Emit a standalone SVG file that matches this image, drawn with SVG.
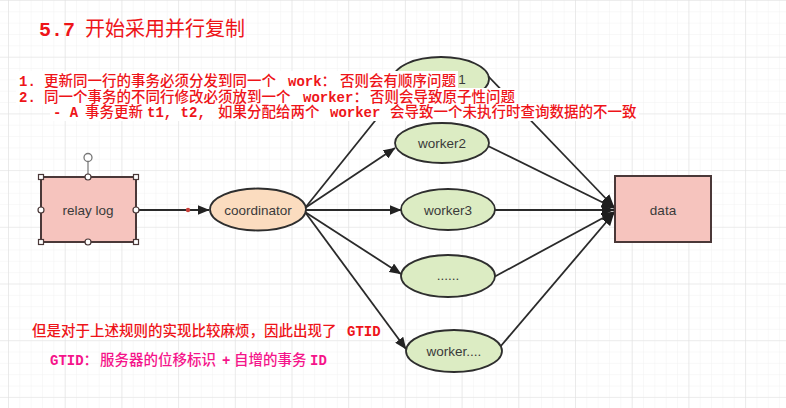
<svg xmlns="http://www.w3.org/2000/svg" width="786" height="408" viewBox="0 0 786 408">
<style>
.node-label{font-family:"Liberation Sans",Arial,sans-serif;font-size:13.5px;fill:#3a3a3a;text-anchor:middle}
.edge{stroke:#2a2a2a;stroke-width:1.8;fill:none}
.worker{fill:#dcecc3;stroke:#2e2e2e;stroke-width:1.8}
.box{fill:#f6c4be;stroke:#4a3838;stroke-width:2}
.txt{font-family:"Liberation Mono","Noto Sans CJK SC",monospace;font-size:14px;font-weight:bold}
.cjk{font-family:"Noto Sans CJK SC","Liberation Sans",sans-serif;font-size:14.5px;font-weight:500}
.red{fill:#ee1419}
.pink{fill:#f5148a}
.bg{fill:#ffffff}
.handle{fill:#ffffff;stroke:#4a3838;stroke-width:1.2}
</style>
<defs>
<pattern id="minor" width="11.34" height="11.34" x="8" y="0" patternUnits="userSpaceOnUse">
<path d="M11.34 0 L0 0 L0 11.34" fill="none" stroke="#f1f1f1" stroke-width="1"/>
</pattern>
<pattern id="major" width="56.7" height="56.7" x="8" y="0" patternUnits="userSpaceOnUse">
<path d="M56.7 0 L0 0 L0 56.7" fill="none" stroke="#e2e2e2" stroke-width="1.2"/>
</pattern>
<marker id="arr" viewBox="0 0 12 10" refX="11.5" refY="5" markerWidth="12" markerHeight="10" markerUnits="userSpaceOnUse" orient="auto">
<path d="M0,0 L12,5 L0,10 z" fill="#222"/>
</marker>
<marker id="arrd" viewBox="0 0 13 11" refX="12.5" refY="5.5" markerWidth="13" markerHeight="11" markerUnits="userSpaceOnUse" orient="auto">
<path d="M0,0 L13,5.5 L0,11 z" fill="#1e1e1e"/>
</marker>
</defs>
<rect width="786" height="408" fill="#ffffff"/>
<rect width="786" height="408" fill="url(#minor)"/>
<rect width="786" height="408" fill="url(#major)"/>

<g id="connectors">
<path class="edge" d="M136 210 L209 210" marker-end="url(#arr)"/>
<circle cx="188" cy="210" r="2.2" fill="#c8403a"/>
<path class="edge" d="M305 208 L399 91" marker-end="url(#arr)"/>
<path class="edge" d="M305 208 L395 148" marker-end="url(#arr)"/>
<path class="edge" d="M305 210 L401 210" marker-end="url(#arr)"/>
<path class="edge" d="M305 212 L401 274" marker-end="url(#arr)"/>
<path class="edge" d="M305 212 L406 349" marker-end="url(#arr)"/>
<path class="edge" d="M488 76 L614 207" marker-end="url(#arrd)"/>
<path class="edge" d="M488 146 L614 208" marker-end="url(#arrd)"/>
<path class="edge" d="M495 210 L614 210" marker-end="url(#arrd)"/>
<path class="edge" d="M494 277 L614 212" marker-end="url(#arrd)"/>
<path class="edge" d="M500 347 L614 213" marker-end="url(#arrd)"/>
</g>

<g id="relay-log">
<rect class="box" x="41" y="177" width="95" height="65"/>
<line x1="88" y1="161" x2="88" y2="177" stroke="#777" stroke-width="1.2"/>
<circle cx="88" cy="157.5" r="4" fill="#fff" stroke="#777" stroke-width="1.3"/>
<rect class="handle" x="38.5" y="174.5" width="5" height="5"/>
<rect class="handle" x="133.5" y="174.5" width="5" height="5"/>
<rect class="handle" x="38.5" y="239.5" width="5" height="5"/>
<rect class="handle" x="133.5" y="239.5" width="5" height="5"/>
<circle class="handle" cx="88" cy="177" r="3"/>
<circle class="handle" cx="88" cy="242" r="3"/>
<circle class="handle" cx="41" cy="210" r="3"/>
<circle class="handle" cx="136" cy="210" r="3"/>
<text class="node-label" x="88" y="215">relay log</text>
</g>

<g id="coordinator">
<ellipse cx="258" cy="209.5" rx="48" ry="21" fill="#fbdcbf" stroke="#2e2e2e" stroke-width="1.8"/>
<text class="node-label" x="258" y="214.5">coordinator</text>
</g>

<g id="worker1">
<ellipse class="worker" cx="441" cy="79" rx="48" ry="22"/>
<text class="node-label" x="462" y="84">1</text>
</g>

<g id="worker2">
<ellipse class="worker" cx="442" cy="143" rx="47" ry="20"/>
<text class="node-label" x="442" y="148">worker2</text>
</g>

<g id="worker3">
<ellipse class="worker" cx="448" cy="209.5" rx="47" ry="20.5"/>
<text class="node-label" x="448" y="214.5">worker3</text>
</g>

<g id="worker-dots">
<ellipse class="worker" cx="448" cy="276" rx="47" ry="21"/>
<text class="node-label" x="448" y="280">......</text>
</g>

<g id="worker-n">
<ellipse class="worker" cx="454" cy="351" rx="48" ry="21"/>
<text class="node-label" x="454" y="356">worker....</text>
</g>

<g id="data">
<rect class="box" x="615" y="176" width="96" height="66"/>
<text class="node-label" x="663" y="215">data</text>
</g>

<g id="title">
<text x="39" y="36" font-size="20" class="red"><tspan font-family="Liberation Mono,monospace" font-weight="bold" font-size="20">5.7</tspan><tspan x="85" font-family="Noto Sans CJK SC,sans-serif" font-size="20">开始采用并行复制</tspan></text>
</g>

<g id="notes">
<rect class="bg" x="16" y="71" width="442" height="18"/>
<rect class="bg" x="16" y="88" width="501" height="17"/>
<rect class="bg" x="50" y="104" width="589" height="17"/>
<text class="txt red"><tspan x="19" y="86">1.</tspan><tspan class="cjk" x="44" y="86">更新同一行的事务必须分发到同一个</tspan><tspan x="288" y="86">work</tspan><tspan class="cjk">：</tspan><tspan class="cjk" x="340" y="86">否则会有顺序问题</tspan><tspan x="19" y="101.5">2.</tspan><tspan class="cjk" x="44" y="101.5">同一个事务的不同行修改必须放到一个</tspan><tspan x="303" y="101.5">worker</tspan><tspan class="cjk">：</tspan><tspan class="cjk" x="370" y="101.5">否则会导致原子性问题</tspan><tspan x="53" y="117">- A</tspan><tspan class="cjk" x="85" y="117">事务更新</tspan><tspan x="147" y="117">t1, t2,</tspan><tspan class="cjk" x="218" y="117">如果分配给两个</tspan><tspan x="330" y="117">worker</tspan><tspan class="cjk" x="390" y="117">会导致一个未执行时查询数据的不一致</tspan></text>
<text class="txt red" y="336"><tspan class="cjk" x="32">但是对于上述规则的实现比较麻烦，因此出现了</tspan><tspan x="347">GTID</tspan></text>
<text class="txt pink" y="365"><tspan x="50">GTID</tspan><tspan class="cjk">：</tspan><tspan class="cjk" x="100">服务器的位移标识</tspan><tspan x="222">+</tspan><tspan class="cjk" x="234">自增的事务</tspan><tspan x="310">ID</tspan></text>
</g>
</svg>
